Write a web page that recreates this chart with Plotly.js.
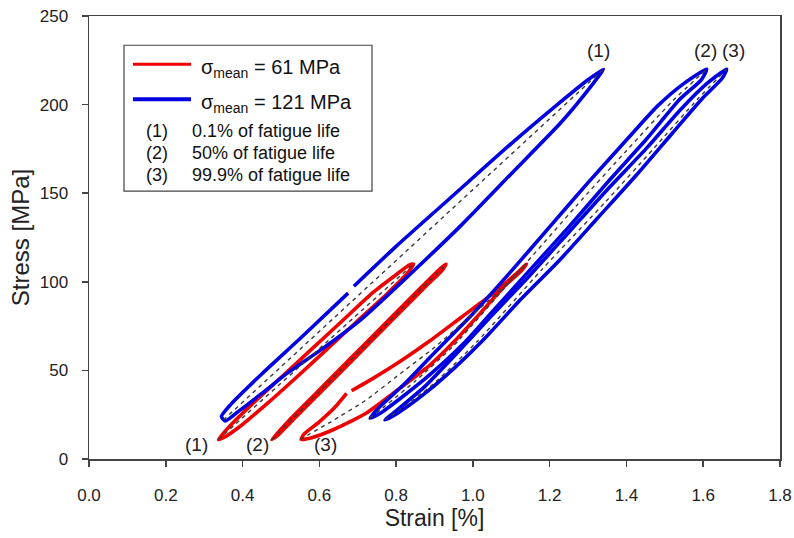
<!DOCTYPE html>
<html>
<head>
<meta charset="utf-8">
<script src="https://cdn.plot.ly/plotly-3.0.1.min.js"></script>
<style>html,body{margin:0;padding:0;background:#fff;}#chart{width:794px;height:538px;}</style>
</head>
<body>
<div id="chart"></div>
<script>
// ---- Data (strain in %, stress in MPa) ----
// sigma_mean = 61 MPa loops
const red1Strain = [0.337, 0.36, 0.42, 0.50, 0.58, 0.66, 0.74, 0.80, 0.835, 0.845, 0.83, 0.78, 0.70, 0.62, 0.54, 0.46, 0.40, 0.35, 0.337];
const red1Stress = [11, 17, 30, 46, 62, 78, 94, 104, 109.5, 110, 105, 94, 78, 62, 46, 30.5, 19.5, 12, 11];
const red2Strain = [0.476, 0.52, 0.589, 0.65, 0.72, 0.80, 0.87, 0.915, 0.93, 0.92, 0.88, 0.81, 0.73, 0.66, 0.60, 0.53, 0.49, 0.476];
const red2Stress = [11, 21.5, 36.5, 50, 65.2, 82.6, 97.9, 107.5, 110, 106.5, 98, 82.8, 65.3, 50, 37, 21.8, 13, 11];
const red3Strain = [0.684, 0.74, 0.81, 0.89, 0.97, 1.05, 1.11, 1.14, 1.125, 1.08, 1.018, 0.95, 0.888, 0.81, 0.723, 0.636, 0.58, 0.553, 0.56, 0.60, 0.64, 0.671];
const red3Stress = [38.5, 45.5, 55, 67, 80, 93, 104, 110, 106, 97, 82, 66, 53, 40, 26, 16.5, 12, 11, 14, 21, 29, 37];
// sigma_mean = 121 MPa loops
const blue1Strain = [0.69, 0.80, 0.95, 1.10, 1.22, 1.30, 1.34, 1.31, 1.23, 1.10, 0.97, 0.84, 0.71, 0.60, 0.52, 0.45, 0.39, 0.355, 0.345, 0.37, 0.45, 0.55, 0.675];
const blue1Stress = [97.5, 120, 149, 178, 200, 214, 220, 211, 190, 161, 132, 105, 79, 61, 49, 37, 27, 21.5, 24, 31, 48, 68, 93.6];
const blue2Strain = [0.732, 0.76, 0.82, 0.90, 1.00, 1.10, 1.20, 1.30, 1.40, 1.48, 1.55, 1.609, 1.595, 1.539, 1.45, 1.35, 1.25, 1.15, 1.05, 0.975, 0.885, 0.81, 0.76, 0.732];
const blue2Stress = [23, 30, 42, 60, 82, 106, 131, 156, 180, 199, 212, 220, 214, 203, 180, 156, 131, 107, 83, 65, 47, 34, 26, 23];
const blue3Strain = [0.771, 0.81, 0.875, 0.955, 1.045, 1.15, 1.25, 1.35, 1.455, 1.54, 1.61, 1.661, 1.65, 1.60, 1.52, 1.425, 1.325, 1.225, 1.12, 1.035, 0.955, 0.875, 0.805, 0.771];
const blue3Stress = [22, 29, 41, 59, 80, 104, 128, 152, 176, 197, 212, 220, 215, 204, 184, 160, 136, 112, 89, 69, 52, 37, 26, 22];
// dashed centre curves of each loop
const red1MidStrain = [0.337, 0.845];
const red1MidStress = [11, 110];
const red2MidStrain = [0.476, 0.93];
const red2MidStress = [11, 110];
const red3MidStrain = [0.55, 0.63, 0.72, 0.81, 0.90, 0.98, 1.06, 1.14];
const red3MidStress = [11, 21, 33, 48, 63, 78, 93, 110];
const blue1MidStrain = [0.35, 1.34];
const blue1MidStress = [22, 220];
const blue2MidStrain = [0.732, 0.85, 0.95, 1.12, 1.27, 1.40, 1.52, 1.609];
const blue2MidStress = [23, 44, 64, 106, 143, 174, 202, 220];
const blue3MidStrain = [0.771, 0.89, 1.01, 1.18, 1.345, 1.47, 1.585, 1.661];
const blue3MidStress = [22, 41, 66, 107, 145, 175, 203, 220];
// labels
const topLabels = ['(1)', '(2)', '(3)'];
const topLabelStrain = [1.326, 1.605, 1.678];
const topLabelStress = [230.5, 230.5, 230.5];
const bottomLabels = ['(1)', '(2)', '(3)'];
const bottomLabelStrain = [0.281, 0.438, 0.615];
const bottomLabelStress = [8, 8, 8];
const legendSeries = ['σ<sub>mean</sub> = 61 MPa', 'σ<sub>mean</sub> = 121 MPa'];
const legendStages = ['(1)', '(2)', '(3)'];
const legendStageText = ['0.1% of fatigue life', '50% of fatigue life', '99.9% of fatigue life'];

const FONT = 'Liberation Sans, Arial, sans-serif';
const RED = '#f00000';
const BLUE = '#0000e0';

function loop(x, y, color) {
  return {x: x, y: y, mode: 'lines', type: 'scatter', showlegend: false, hoverinfo: 'skip',
    line: {color: color, width: 3.6, shape: 'spline', smoothing: 0.6}};
}
function mid(x, y) {
  return {x: x, y: y, mode: 'lines', type: 'scatter', showlegend: false, hoverinfo: 'skip',
    line: {color: '#3a3a3a', width: 1.4, dash: '4px,4px', shape: 'spline', smoothing: 0.6}};
}

const traces = [
  loop(red1Strain, red1Stress, RED),
  loop(red2Strain, red2Stress, RED),
  loop(red3Strain, red3Stress, RED),
  loop(blue1Strain, blue1Stress, BLUE),
  loop(blue2Strain, blue2Stress, BLUE),
  loop(blue3Strain, blue3Stress, BLUE),
  mid(red1MidStrain, red1MidStress),
  mid(red2MidStrain, red2MidStress),
  mid(red3MidStrain, red3MidStress),
  mid(blue1MidStrain, blue1MidStress),
  mid(blue2MidStrain, blue2MidStress),
  mid(blue3MidStrain, blue3MidStress)
];

// plot area in pixels: left 89, right 780, top 15.7, bottom 459.3
const L = 89, R = 780, T = 15.7, B = 459.3;
const px = X => (X - L) / (R - L);
const py = Y => (B - Y) / (B - T);

const annotations = [];
topLabels.forEach((t, i) => annotations.push({x: topLabelStrain[i], y: topLabelStress[i], xref: 'x', yref: 'y', text: t, showarrow: false, font: {family: FONT, size: 19, color: '#222'}}));
bottomLabels.forEach((t, i) => annotations.push({x: bottomLabelStrain[i], y: bottomLabelStress[i], xref: 'x', yref: 'y', text: t, showarrow: false, font: {family: FONT, size: 19, color: '#222'}}));
const legendY = [68, 103];
legendSeries.forEach((t, i) => annotations.push({x: px(199), y: py(legendY[i]), xref: 'paper', yref: 'paper', xanchor: 'left', yanchor: 'middle', text: t, showarrow: false, font: {family: FONT, size: 20, color: '#111'}}));
const stageY = [131, 153, 175];
legendStages.forEach((t, i) => {
  annotations.push({x: px(144), y: py(stageY[i]), xref: 'paper', yref: 'paper', xanchor: 'left', yanchor: 'middle', text: t, showarrow: false, font: {family: FONT, size: 18, color: '#111'}});
  annotations.push({x: px(190), y: py(stageY[i]), xref: 'paper', yref: 'paper', xanchor: 'left', yanchor: 'middle', text: legendStageText[i], showarrow: false, font: {family: FONT, size: 18, color: '#111'}});
});

const shapes = [
  {type: 'rect', xref: 'paper', yref: 'paper', x0: px(124), x1: px(372), y0: py(191), y1: py(45), line: {color: '#444', width: 1.2}, fillcolor: 'rgba(0,0,0,0)'},
  {type: 'line', xref: 'paper', yref: 'paper', x0: px(133), x1: px(191), y0: py(64), y1: py(64), line: {color: RED, width: 3}},
  {type: 'line', xref: 'paper', yref: 'paper', x0: px(133), x1: px(191), y0: py(99), y1: py(99), line: {color: BLUE, width: 4}}
];

const axisCommon = {
  showgrid: false, zeroline: false, showline: true, mirror: true,
  linecolor: '#444', linewidth: 1.5, ticks: 'outside', ticklen: 6, tickwidth: 1.5, tickcolor: '#444',
  tickfont: {family: FONT, size: 17, color: '#222'}, automargin: false
};

const layout = {
  width: 794, height: 538,
  margin: {l: L, r: 794 - R, t: T, b: 538 - B, pad: 0},
  paper_bgcolor: '#fff', plot_bgcolor: '#fff',
  xaxis: Object.assign({}, axisCommon, {range: [0, 1.8], dtick: 0.2, tick0: 0, tickformat: '.1f', ticklabelstandoff: 14,
    title: {text: 'Strain [%]', font: {family: FONT, size: 23, color: '#222'}, standoff: 6}}),
  yaxis: Object.assign({}, axisCommon, {range: [0, 250], dtick: 50, tick0: 0, ticklabelstandoff: 10,
    title: {text: 'Stress [MPa]', font: {family: FONT, size: 24, color: '#222'}, standoff: 3}}),
  annotations: annotations,
  shapes: shapes
};

Plotly.newPlot('chart', traces, layout, {staticPlot: true, displayModeBar: false});
</script>
</body>
</html>
